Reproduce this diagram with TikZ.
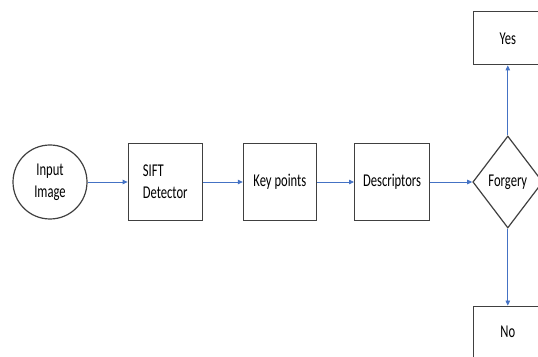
\documentclass[tikz,border=0pt]{standalone}
\usepackage{fontspec}
\setmainfont{Carlito}[FakeStretch=0.7]
\usepackage{xcolor}
\usepackage{tikz}
\usetikzlibrary{arrows.meta, shapes.geometric, positioning}
\definecolor{flowblue}{RGB}{68, 114, 196}
\definecolor{edgegray}{RGB}{64, 64, 64}

\begin{document}
\begin{tikzpicture}[x=1pt, y=1pt,
        font=\fontsize{18}{21.6}\selectfont,
        box/.style={draw=edgegray, line width=1.2pt, minimum width=74pt,
                    minimum height=77pt, inner sep=2pt, align=left},
        flow/.style={-{Triangle[length=5pt, width=4.5pt]}, flowblue,
                     line width=0.8pt}]
        \useasboundingbox (0,0) rectangle (538,356);

        \node[circle, draw=edgegray, line width=1.2pt, minimum size=74pt,
              inner sep=0pt, align=center] (input) at (50,174)
              {Input\\Image};
        \node[box, right=40pt of input] (sift) {SIFT\\Detector};
        \node[box, minimum width=73pt, right=40pt of sift] (keypts)
              {Key points};
        \node[box, minimum width=75pt, right=37pt of keypts] (desc)
              {Descriptors};
        \node[diamond, draw=edgegray, line width=1.2pt, minimum width=70pt,
              minimum height=92pt, inner sep=0pt, right=42pt of desc]
              (forgery) {Forgery};
        \node[box, minimum width=68pt, minimum height=53pt,
              above=70pt of forgery] (yes) {Yes};
        \node[box, minimum width=68pt, minimum height=52pt,
              below=77pt of forgery] (no) {No};

        \draw[flow] (input) -- (sift);
        \draw[flow] (sift) -- (keypts);
        \draw[flow] (keypts) -- (desc);
        \draw[flow] (desc) -- (forgery);
        \draw[flow] (forgery) -- (yes);
        \draw[flow] (forgery) -- (no);
    \end{tikzpicture}
\end{document}
